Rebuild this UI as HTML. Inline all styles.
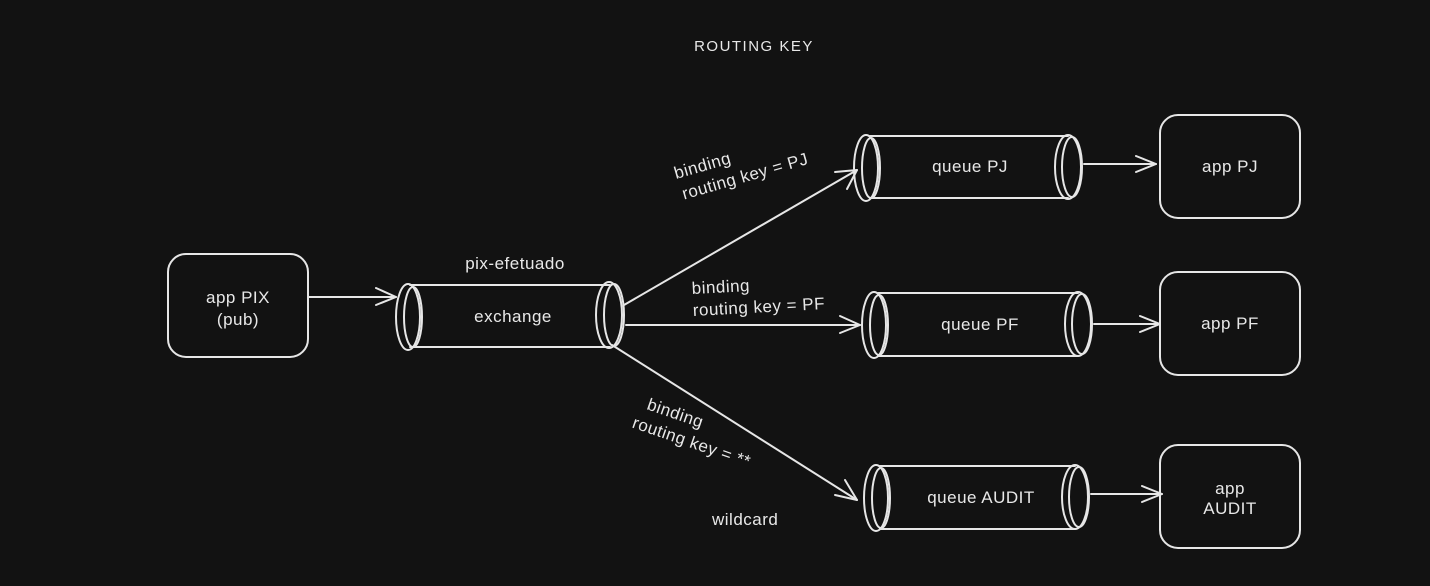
<!DOCTYPE html>
<html><head><meta charset="utf-8"><style>
html,body{margin:0;padding:0;background:#121212;}
svg{display:block}
text{font-family:"Liberation Sans",sans-serif;fill:#e8e8e8;font-size:17px;letter-spacing:0.5px;}
</style></head><body>
<svg width="1430" height="586" viewBox="0 0 1430 586" xmlns="http://www.w3.org/2000/svg">
<rect width="1430" height="586" fill="#121212"/>
<g stroke="#e6e6e6" stroke-width="2" fill="none" stroke-linecap="round" stroke-linejoin="round">
<rect x="168" y="254" width="140" height="103" rx="18"/>
<line x1="309" y1="297" x2="396" y2="297"/><polyline points="376,288 396,297 376,305"/>
<line x1="410" y1="285" x2="610" y2="285"/><line x1="410" y1="347" x2="610" y2="347"/>
<ellipse cx="408" cy="317" rx="12" ry="33"/><ellipse cx="413" cy="317" rx="9" ry="30"/>
<ellipse cx="609" cy="315" rx="13" ry="33"/><ellipse cx="614" cy="315" rx="10" ry="31"/>
<line x1="624" y1="305" x2="857" y2="170"/><polyline points="835,172 857,170 847,189"/>
<line x1="626" y1="325" x2="860" y2="325"/><polyline points="840,316 860,325 840,333"/>
<line x1="612" y1="345" x2="857" y2="500"/><polyline points="835,495 857,500 845,480"/>
<line x1="870" y1="136" x2="1068" y2="136"/><line x1="870" y1="198" x2="1068" y2="198"/>
<ellipse cx="866" cy="168" rx="12" ry="33"/><ellipse cx="871" cy="168" rx="9" ry="30"/>
<ellipse cx="1068" cy="167" rx="13" ry="32"/><ellipse cx="1072" cy="167" rx="10" ry="30"/>
<line x1="1084" y1="164" x2="1156" y2="164"/><polyline points="1136,156 1156,164 1136,172"/>
<rect x="1160" y="115" width="140" height="103" rx="18"/>
<line x1="878" y1="293" x2="1078" y2="293"/><line x1="878" y1="356" x2="1078" y2="356"/>
<ellipse cx="874" cy="325" rx="12" ry="33"/><ellipse cx="879" cy="325" rx="9" ry="30"/>
<ellipse cx="1078" cy="324" rx="13" ry="32"/><ellipse cx="1082" cy="324" rx="10" ry="30"/>
<line x1="1094" y1="324" x2="1160" y2="324"/><polyline points="1140,316 1160,324 1140,332"/>
<rect x="1160" y="272" width="140" height="103" rx="18"/>
<line x1="880" y1="466" x2="1075" y2="466"/><line x1="880" y1="529" x2="1075" y2="529"/>
<ellipse cx="876" cy="498" rx="12" ry="33"/><ellipse cx="881" cy="498" rx="9" ry="30"/>
<ellipse cx="1075" cy="497" rx="13" ry="32"/><ellipse cx="1079" cy="497" rx="10" ry="30"/>
<line x1="1091" y1="494" x2="1162" y2="494"/><polyline points="1142,486 1162,494 1142,502"/>
<rect x="1160" y="445" width="140" height="103" rx="18"/>
</g>
<text x="754" y="51" text-anchor="middle" style="font-size:15px;letter-spacing:1.5px">ROUTING KEY</text>
<text x="238" y="303" text-anchor="middle">app PIX</text>
<text x="238" y="325" text-anchor="middle">(pub)</text>
<text x="515" y="269" text-anchor="middle">pix-efetuado</text>
<text x="513" y="322" text-anchor="middle">exchange</text>
<text x="970" y="172" text-anchor="middle">queue PJ</text>
<text x="980" y="330" text-anchor="middle">queue PF</text>
<text x="981" y="503" text-anchor="middle">queue AUDIT</text>
<text x="1230" y="172" text-anchor="middle">app PJ</text>
<text x="1230" y="329" text-anchor="middle">app PF</text>
<text x="1230" y="494" text-anchor="middle">app</text>
<text x="1230" y="514" text-anchor="middle">AUDIT</text>
<g transform="translate(676,179) rotate(-16)"><text x="0" y="0">binding</text><text x="2" y="22">routing key = PJ</text></g>
<g transform="translate(692,294) rotate(-3)"><text x="0" y="0">binding</text><text x="0" y="22">routing key = PF</text></g>
<g transform="translate(646,409) rotate(19)"><text x="0" y="0">binding</text><text x="-8" y="22">routing key = **</text></g>
<text x="712" y="525">wildcard</text>
</svg>
</body></html>
